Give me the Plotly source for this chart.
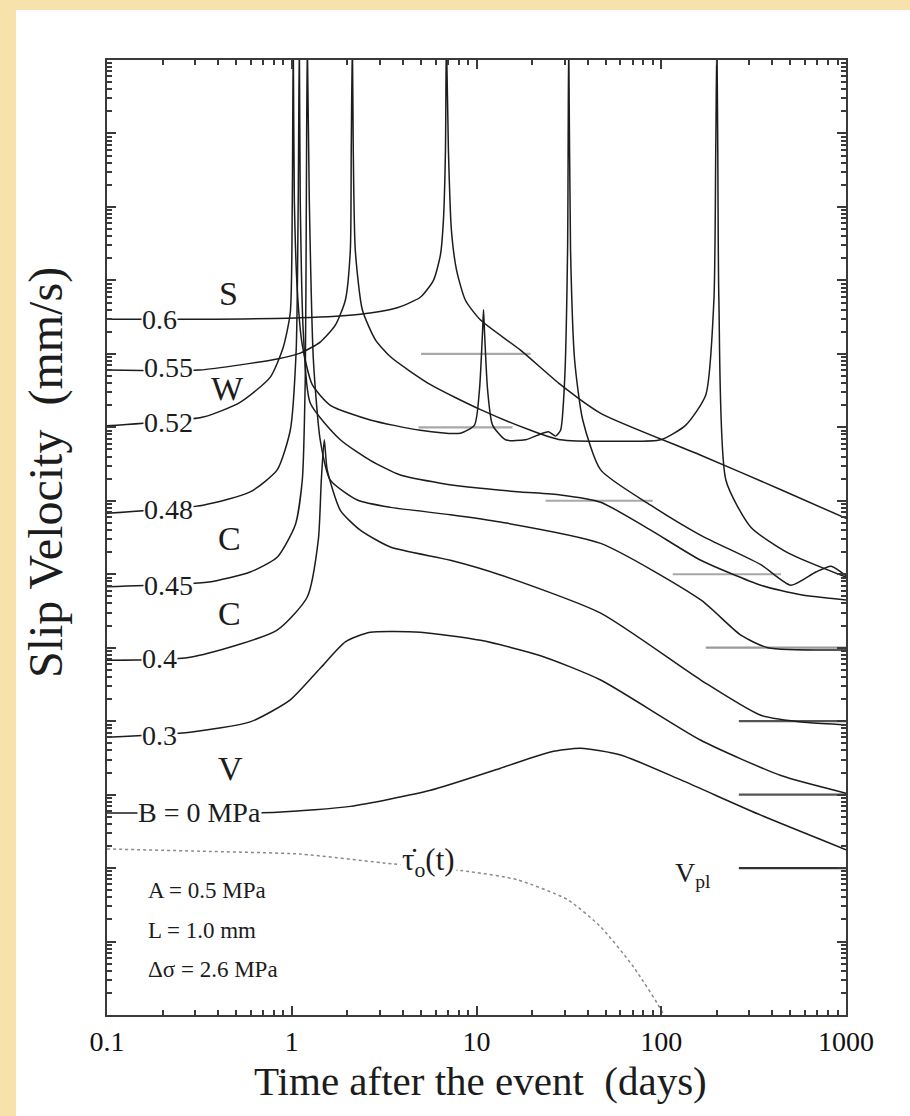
import numpy as np
import plotly.graph_objects as go

# Slip-velocity histories after the event, one curve per B value (MPa).
# Values are log10(time in days) and log10(slip velocity in mm/s);
# successive curves are shifted one decade apart for display.
B06_LOGT = [-1, -0.50, 0.046, 0.371, 0.561, 0.696, 0.767, 0.805, 0.821, 0.832, 0.837, 0.848,
            0.864, 0.892, 0.940, 1.022, 1.238, 1.455, 1.672, 2.214, 2.648, 3.0]
B06_LOGV = [1.47, 1.47, 1.49, 1.54, 1.62, 1.77, 2.00, 2.35, 2.82, 3.77, 5.3, 3.77,
            2.69, 2.14, 1.73, 1.46, 1.05, 0.58, 0.19, -0.38, -0.85, -1.24]

B055_LOGT = [-1, -0.50, -0.079, 0.046, 0.154, 0.236, 0.290, 0.317, 0.322, 0.328, 0.333, 0.344,
             0.382, 0.453, 0.534, 0.751, 1.022, 1.293, 1.455, 1.780, 1.997, 2.133, 2.241, 2.285,
             2.295, 2.301, 2.306, 2.312, 2.350, 2.485, 2.686, 3.0]
B055_LOGV = [0.78, 0.78, 0.93, 1.01, 1.16, 1.39, 1.73, 2.41, 3.77, 5.3, 3.77, 2.41,
             1.60, 1.19, 0.96, 0.58, 0.24, -0.04, -0.17, -0.19, -0.17, 0.03, 0.44, 1.73,
             3.77, 5.3, 3.77, 1.73, -0.72, -1.36, -1.71, -2.04]

B052_LOGT = [-1, -0.48, -0.28, -0.117, -0.046, -0.008, 0.003, 0.008, 0.014, 0.030, 0.057,
             0.111, 0.209, 0.425, 0.696, 0.913, 0.989, 1.016, 1.033, 1.038, 1.043, 1.060,
             1.087, 1.157, 1.266, 1.347, 1.390, 1.428, 1.455, 1.477, 1.493, 1.499, 1.509,
             1.531, 1.575, 1.672, 1.943, 2.214, 2.539, 2.702, 2.837, 2.919, 3.0]
B052_LOGV = [0.02, 0.14, 0.34, 0.68, 1.09, 1.56, 3.09, 5.3, 3.09, 1.87, 1.12,
             0.58, 0.30, 0.10, -0.04, -0.08, 0.03, 0.51, 1.32, 1.60, 1.32, 0.51,
             0.03, -0.17, -0.17, -0.09, -0.06, -0.12, -0.04, 0.64, 2.41, 5.3, 2.41,
             0.92, 0.10, -0.58, -1.06, -1.47, -1.87, -2.15, -1.97, -1.89, -2.02]

B048_LOGT = [-1, -0.48, -0.225, -0.079, -0.008, 0.024, 0.035, 0.041, 0.046, 0.062, 0.100, 0.263,
             0.425, 0.588, 0.805, 1.022, 1.238, 1.455, 1.672, 1.943, 2.214, 2.539, 2.756, 3.0]
B048_LOGV = [-1.17, -1.06, -0.88, -0.58, -0.04, 1.05, 3.09, 5.3, 3.09, 1.32, 0.33, -0.17,
             -0.45, -0.65, -0.76, -0.83, -0.88, -0.92, -1.02, -1.40, -1.81, -2.15, -2.28, -2.35]

B045_LOGT = [-1, -0.46, -0.225, -0.079, 0.019, 0.057, 0.073, 0.079, 0.084, 0.095, 0.117,
             0.154, 0.209, 0.355, 0.534, 0.859, 1.130, 1.672, 2.214, 2.431, 2.577, 3.0]
B045_LOGV = [-2.17, -2.11, -1.97, -1.77, -1.33, -0.72, 0.64, 3.09, 5.3, 3.09, 0.92,
             -0.17, -0.72, -0.99, -1.09, -1.19, -1.29, -1.58, -2.35, -2.83, -3.00, -3.03]

B04_LOGT = [-1, -0.55, -0.079, 0.084, 0.144, 0.160, 0.176, 0.192, 0.263, 0.371, 0.534,
            0.859, 1.130, 1.672, 2.214, 2.539, 2.794, 3.0]
B04_LOGV = [-3.17, -3.13, -2.76, -2.31, -1.53, -0.72, -0.17, -0.58, -1.13, -1.40, -1.63,
            -1.81, -2.01, -2.53, -3.44, -3.92, -4.02, -4.05]

B03_LOGT = [-1, -0.55, -0.225, -0.008, 0.154, 0.290, 0.425, 0.696, 1.022, 1.347, 1.672,
            2.214, 2.648, 3.0]
B03_LOGV = [-4.22, -4.15, -4.01, -3.71, -3.28, -2.92, -2.79, -2.79, -2.90, -3.11, -3.44,
            -4.26, -4.74, -4.98]

B00_LOGT = [-1, -0.079, 0.317, 0.751, 1.130, 1.401, 1.564, 1.780, 2.106, 2.539, 3.0]
B00_LOGV = [-5.25, -5.24, -5.16, -4.94, -4.64, -4.42, -4.37, -4.46, -4.80, -5.28, -5.75]

# Stressing rate of the loading, dotted
TAU_LOGT = [-1, -0.50, 0.046, 0.496, 0.967, 1.222, 1.493, 1.672, 1.851, 2.014, 2.05]
TAU_LOGV = [-5.74, -5.77, -5.81, -5.93, -6.05, -6.16, -6.43, -6.80, -7.35, -8.0, -8.3]

# Steady-state velocity levels (log10 mm/s) and their time spans (log10 days)
SS_LEVEL = [1, 0, -1, -2, -3, -4, -5, -6]
SS_START = [0.70, 0.686, 1.374, 2.062, 2.241, 2.42, 2.42, 2.42]
SS_END = [1.293, 1.195, 1.954, 2.648, 3.0, 3.0, 3.0, 3.0]
SS_COLOR = ["#a8a8a8", "#a8a8a8", "#a8a8a8", "#a8a8a8", "#9a9a9a", "#555555", "#555555", "#333333"]

CURVE_LABELS = ["0.6", "0.55", "0.52", "0.48", "0.45", "0.4", "0.3", "B = 0 MPa"]
REGIME_LABELS = ["S", "W", "C", "C", "V"]
X_TICKS = [0.1, 1, 10, 100, 1000]
X_TICKTEXT = ["0.1", "1", "10", "100", "1000"]

SERIF = "Liberation Serif, Times New Roman, serif"
INK = "#1c1c1c"

W, H = 910, 1116
L, R, T, B = 107, 846, 60, 1015


def fx(px):
    return (px - L) / (R - L)


def fy(py):
    return (B - py) / (B - T)


fig = go.Figure()

curves = [(B06_LOGT, B06_LOGV), (B055_LOGT, B055_LOGV), (B052_LOGT, B052_LOGV),
          (B048_LOGT, B048_LOGV), (B045_LOGT, B045_LOGV), (B04_LOGT, B04_LOGV),
          (B03_LOGT, B03_LOGV), (B00_LOGT, B00_LOGV)]

for lvl, t0, t1, col in zip(SS_LEVEL, SS_START, SS_END, SS_COLOR):
    fig.add_trace(go.Scatter(x=[10 ** t0, 10 ** t1], y=[10.0 ** lvl, 10.0 ** lvl], mode="lines",
                             line=dict(color=col, width=2.2), hoverinfo="skip", showlegend=False))

for lt, lv in curves:
    fig.add_trace(go.Scatter(x=10 ** np.array(lt), y=10 ** np.array(lv), mode="lines",
                             line=dict(color=INK, width=1.5, shape="spline", smoothing=0.6),
                             hoverinfo="skip", showlegend=False))

fig.add_trace(go.Scatter(x=10 ** np.array(TAU_LOGT), y=10 ** np.array(TAU_LOGV), mode="lines",
                         line=dict(color="#8a8a8a", width=1.5, dash="dot", shape="spline", smoothing=0.6),
                         hoverinfo="skip", showlegend=False))

minor_x = [m * 10.0 ** k for k in range(-1, 3) for m in range(2, 10)]
minor_y = [m * 10.0 ** k for k in range(-8, 5) for m in range(2, 10)]

axis_common = dict(showline=True, linecolor="#3a3a3a", linewidth=2, mirror="allticks",
                   ticks="inside", tickcolor="#3a3a3a", tickwidth=1.5,
                   showgrid=False, zeroline=False)

fig.update_xaxes(type="log", range=[-1, 3], tickmode="array", tickvals=X_TICKS, ticktext=X_TICKTEXT,
                 ticklen=9, tickfont=dict(family=SERIF, size=28, color="#111"),
                 minor=dict(tickmode="array", tickvals=minor_x, ticks="inside", ticklen=5,
                            tickcolor="#3a3a3a", showgrid=False),
                 **axis_common)
fig.update_yaxes(type="log", range=[-8, 5], tickmode="array",
                 tickvals=[10.0 ** k for k in range(-8, 6)], showticklabels=False, ticklen=9,
                 minor=dict(tickmode="array", tickvals=minor_y, ticks="inside", ticklen=5,
                            tickcolor="#3a3a3a", showgrid=False),
                 **axis_common)

ann = []
# curve labels on the left, boxed in white so they break the curves
label_pos = [(159, 319), (168, 368), (168, 423), (168, 509), (168, 585), (159, 659), (159, 735), (199, 812)]
for txt, (px, py) in zip(CURVE_LABELS, label_pos):
    ann.append(dict(x=fx(px), y=fy(py), xref="paper", yref="paper", text=txt, showarrow=False,
                    font=dict(family=SERIF, size=28, color=INK), bgcolor="white", borderpad=0,
                    xanchor="center", yanchor="middle"))

regime_pos = [(228, 293), (227, 388), (229, 538), (229, 613), (230, 768)]
for txt, (px, py) in zip(REGIME_LABELS, regime_pos):
    ann.append(dict(x=fx(px), y=fy(py), xref="paper", yref="paper", text=txt, showarrow=False,
                    font=dict(family=SERIF, size=34, color=INK), xanchor="center", yanchor="middle"))

ann.append(dict(x=fx(693), y=fy(874), xref="paper", yref="paper", text="V<sub>pl</sub>", showarrow=False,
                font=dict(family=SERIF, size=28, color=INK), xanchor="center", yanchor="middle"))
ann.append(dict(x=fx(428), y=fy(862), xref="paper", yref="paper", text="\u03c4\u0307<sub>o</sub>(t)",
                showarrow=False, font=dict(family=SERIF, size=31, color=INK), bgcolor="white",
                xanchor="center", yanchor="middle"))

for txt, py in zip(["A = 0.5 MPa", "L = 1.0 mm", "\u0394\u03c3 = 2.6 MPa"], [890, 930, 969]):
    ann.append(dict(x=fx(146), y=fy(py), xref="paper", yref="paper", text=txt, showarrow=False,
                    font=dict(family=SERIF, size=23, color=INK), xanchor="left", yanchor="middle"))

ann.append(dict(x=fx(480), y=fy(1081), xref="paper", yref="paper", text="Time after the event  (days)",
                showarrow=False, font=dict(family=SERIF, size=41, color=INK),
                xanchor="center", yanchor="middle"))
ann.append(dict(x=fx(46), y=fy(473), xref="paper", yref="paper", text="Slip Velocity  (mm/s)",
                showarrow=False, textangle=-90, font=dict(family=SERIF, size=48, color=INK),
                xanchor="center", yanchor="middle"))

fig.update_layout(
    width=W, height=H,
    margin=dict(l=L, r=W - R, t=T, b=H - B),
    paper_bgcolor="#f6e2aa",
    plot_bgcolor="white",
    annotations=ann,
    shapes=[dict(type="rect", xref="paper", yref="paper", x0=fx(16), x1=fx(W + 5), y0=fy(H + 5), y1=fy(10),
                 fillcolor="white", line=dict(width=0), layer="below")],
)

fig.write_html("out.html")
